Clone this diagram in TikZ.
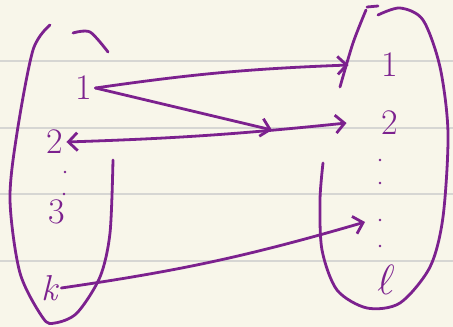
\documentclass[tikz,border=0pt]{standalone}
\usetikzlibrary{arrows.meta}
\definecolor{paper}{RGB}{248,246,234}
\definecolor{rule}{RGB}{214,214,211}
\definecolor{ink}{RGB}{124,33,142}
\tikzset{
	lbl/.style={font=\fontsize{36}{40}\selectfont, text=ink, inner sep=3pt},
	pen/.style={ink, line width=2.8pt, line cap=round, line join=round},
	arr/.style={pen, -{Straight Barb[length=9pt,width=18pt,line width=2.8pt]}},
	dot/.style={ink, radius=1.4pt}
}
\begin{document}
\begin{tikzpicture}[x=1pt,y=-1pt]
	% Paper and ruled lines
	\fill[paper] (0,0) rectangle (453,327);
	\useasboundingbox (0,0) rectangle (453,327);
	\foreach \y in {61,128,194,261}
		\draw[rule, line width=2pt] (0,\y) -- (453,\y);
	% Left set
	\draw[pen] plot[smooth] coordinates {(50,25) (33,50) (17,133) (10,200) (20,273) (43,318) (55,323) (77,313) (100,277) (110,233) (113,160)};
	\draw[pen] plot[smooth] coordinates {(73,33) (90,32) (108,52)};
	% Right set
	\draw[pen] (367,7) -- (378,6);
	\draw[pen] plot[smooth] coordinates {(366,10) (353,43) (340,87)};
	\draw[pen] plot[smooth] coordinates {(378,15) (400,8) (423,20) (440,67) (448,133) (443,217) (430,267) (400,303) (367,308) (337,290) (322,250) (320,200) (323,163)};
	% Elements
	\node[lbl] (L1) at (84,88) {1};
	\node[lbl] (L2) at (55,142) {2};
	\node[lbl] (L3) at (57,212) {3};
	\node[lbl] (Lk) at (50,288) {\itshape k};
	\node[lbl] (R1) at (390,65) {1};
	\node[lbl] (R2) at (390,123) {2};
	\node[lbl] (Rl) at (386,280) {\scalebox{1.7}{$\ell$}};
	\fill[dot] (65,172) circle;
	\fill[dot] (64,194) circle;
	\foreach \y in {160,183,220,246}
		\fill[dot] (380,\y) circle;
	\coordinate (m) at (272,130);
	\coordinate (t) at (365,222);
	% Arrows
	\draw[arr] (L1.east) to[bend left=3] ([xshift=-30pt]R1.west);
	\draw[arr] (L1.east) -- (m);
	\draw[pen, {Straight Barb[length=9pt,width=18pt,line width=2.8pt]}-{Straight Barb[length=9pt,width=18pt,line width=2.8pt]}] (L2.east) to[bend right=2] ([xshift=-32pt]R2.west);
	\draw[arr] (Lk.east) to[bend right=4] (t);
\end{tikzpicture}
\end{document}
